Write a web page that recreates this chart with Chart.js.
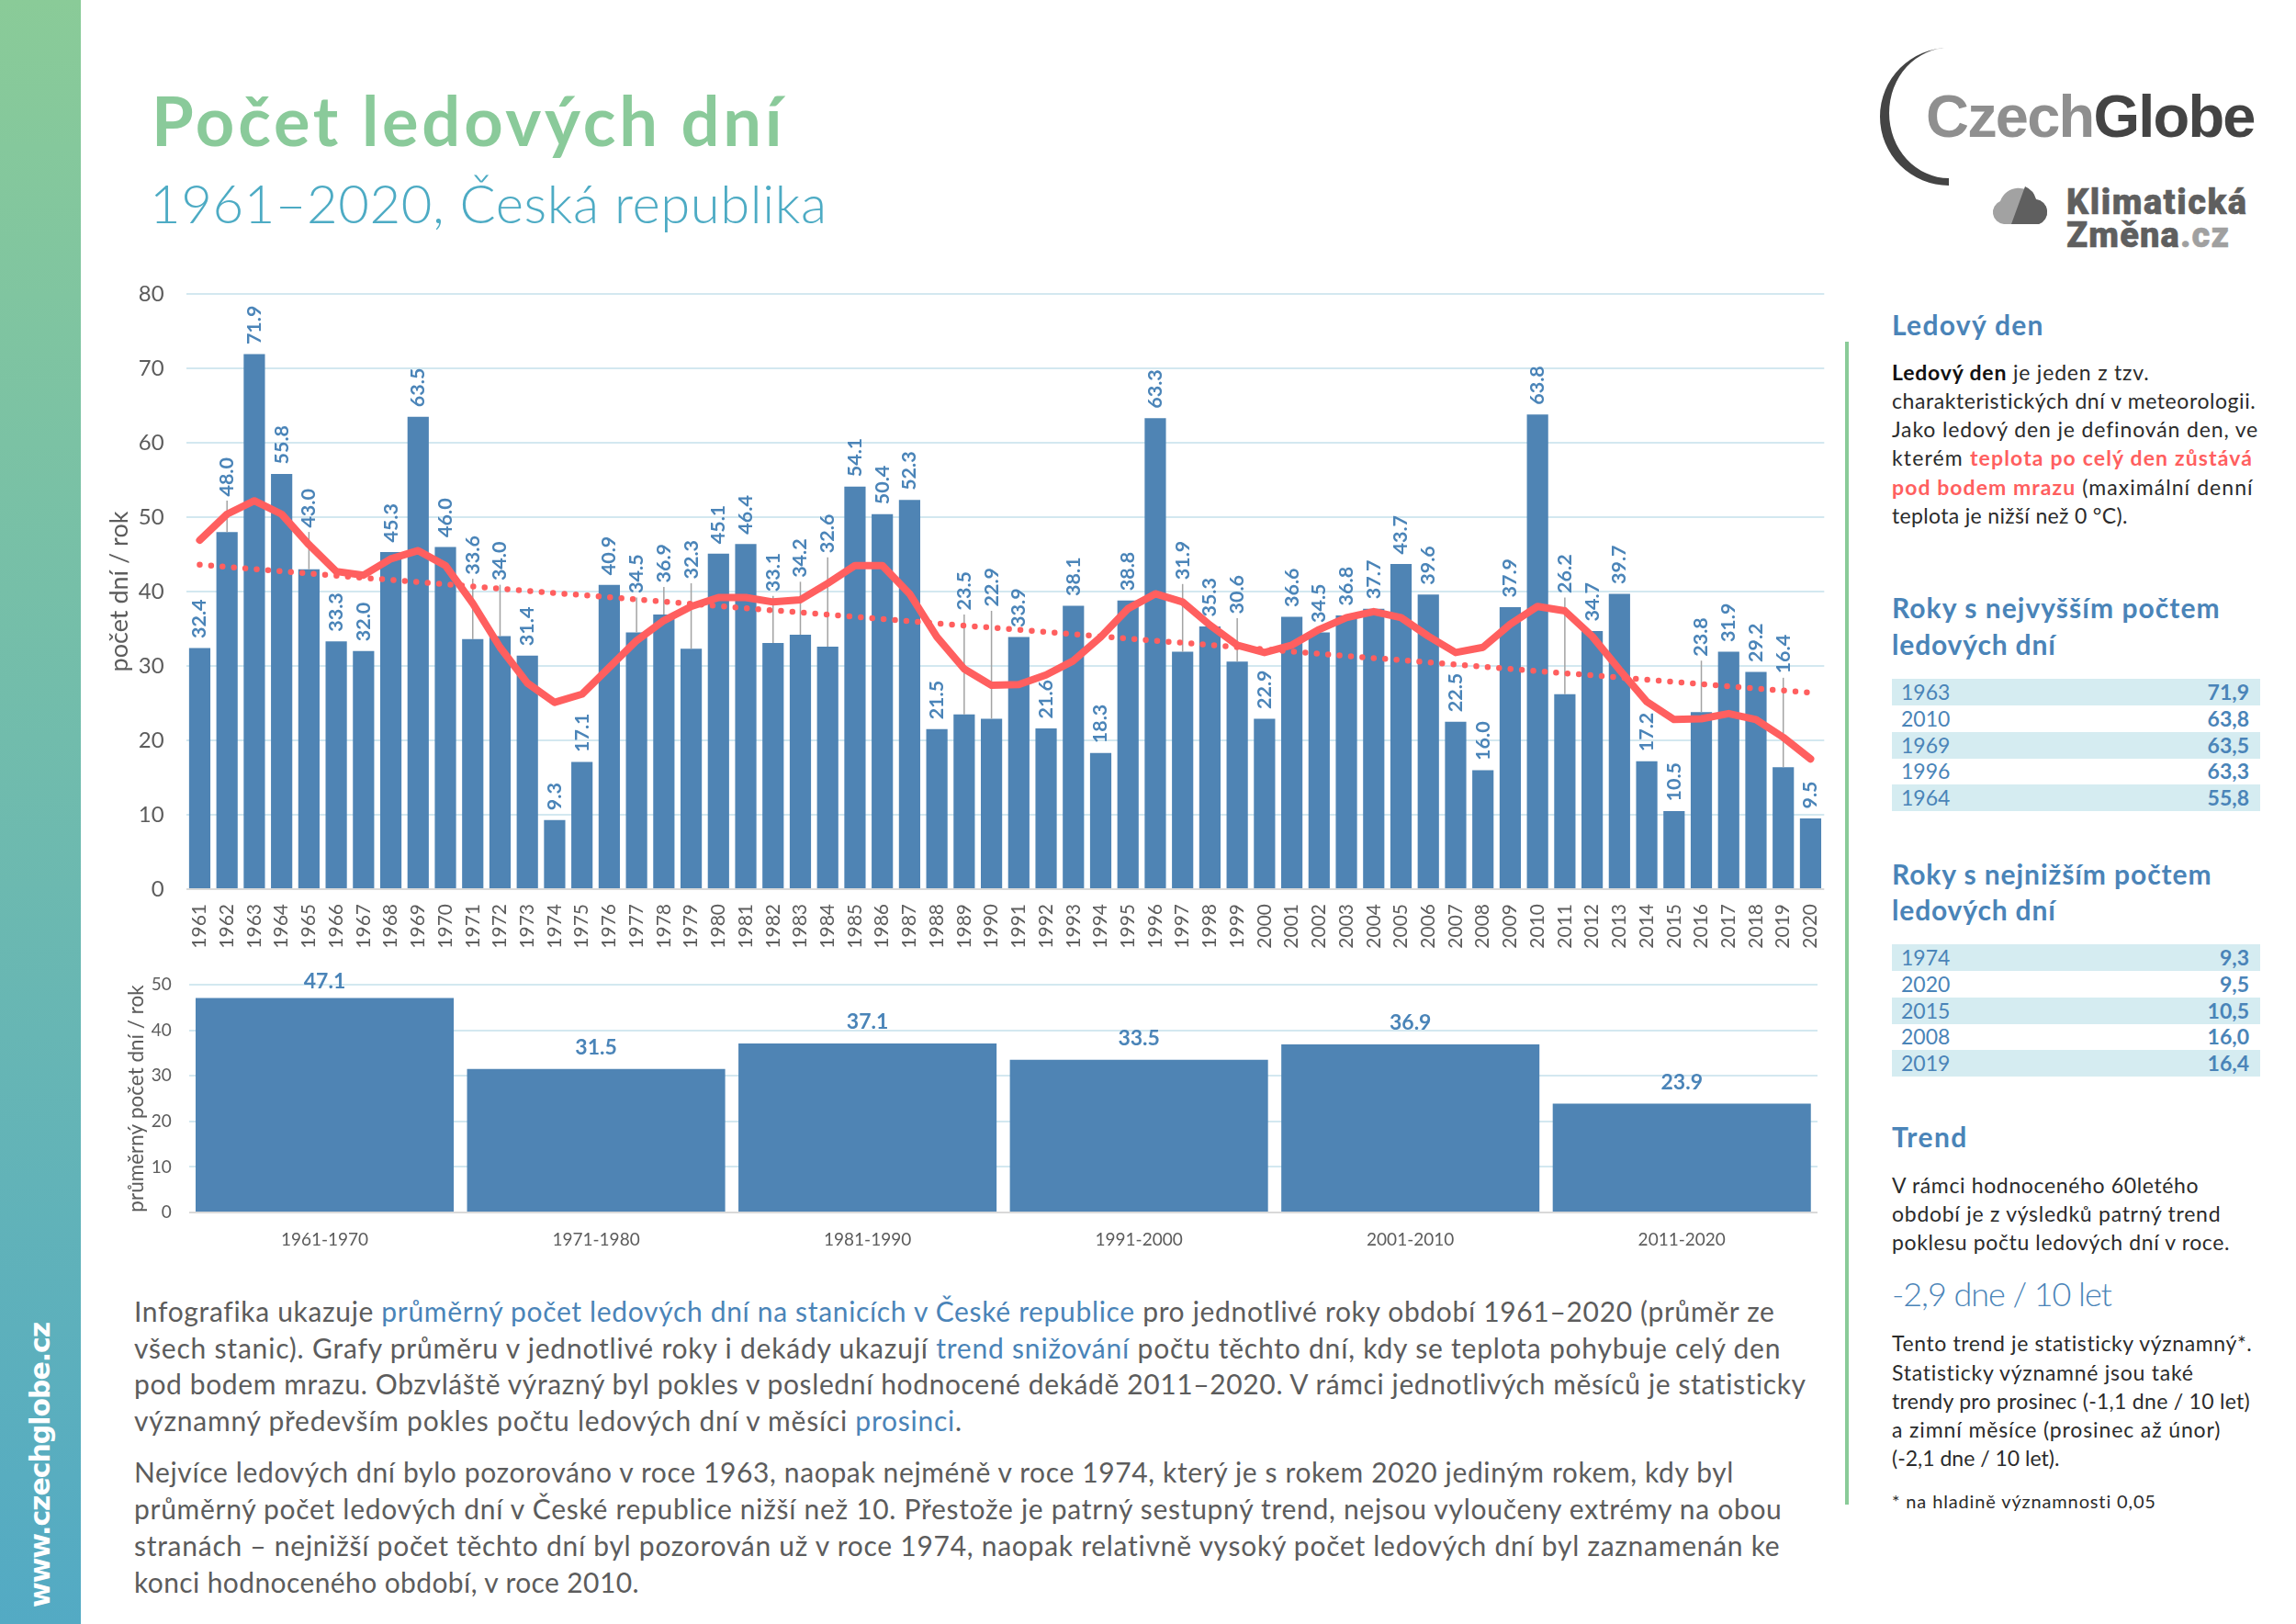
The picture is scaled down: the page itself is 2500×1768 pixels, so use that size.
<!DOCTYPE html>
<html lang="cs">
<head>
<meta charset="utf-8">
<title>Počet ledových dní</title>
<script src="https://cdn.jsdelivr.net/npm/chart.js@4"></script>
<style>
  html, body { margin: 0; padding: 0; background: #fff; }
  #page { position: relative; width: 2500px; height: 1768px; overflow: hidden; font-family: Lato, sans-serif; }
  #band { position: absolute; left: 0; top: 0; width: 88px; height: 1768px; background: linear-gradient(#8acb98, #53aac4); }
  #www { position: absolute; left: 44px; top: 1750px; color: #fff; font: 700 30px "DejaVu Sans", sans-serif; white-space: nowrap; line-height: 1;
         transform-origin: 0 50%; transform: translateY(-50%) rotate(-90deg); }
  canvas { position: absolute; }
  .ln { position: absolute; white-space: nowrap; line-height: 1; transform: translateY(calc(-50% - 1.5px)); }
  .head { color: #4a84b8; font-size: 30px; font-weight: 700; }
  .side { color: #2b2b2b; font-size: 23px; }
  .body { color: #5c5c5c; font-size: 30px; }
  .blue { color: #4a84b8; }
  .red { color: #ff5f5f; font-weight: 700; }
  .row { position: absolute; left: 2060px; width: 401px; height: 29px; }
  .row.on { background: #d5ecf1; }
  .row span { position: absolute; top: 0; line-height: 29px; font-size: 23px; color: #4a84b8; }
  .row .y { left: 10px; font-weight: 400; }
  .row .v { right: 12px; font-weight: 700; }
  #rule { position: absolute; left: 2009px; top: 372px; width: 4px; height: 1266px; background: #8acb98; }
  #logo { position: absolute; left: 0; top: 0; }
  .mark { font-family: Roboto, sans-serif; font-size: 38px; font-weight: 900; color: #5f5f5f; -webkit-text-stroke: 0.5px currentColor; }
</style>
</head>
<body>
<div id="page">
  <div id="band"></div>
  <div id="www" data-w="310">www.czechglobe.cz</div>

  <div class="ln" data-w="690" style="left:165px;top:132px;font-size:74px;font-weight:700;color:#8aca9a">Počet ledových dní</div>
  <div class="ln" data-w="738" style="left:163px;top:222px;font-size:58px;font-weight:300;color:#4dabc4">1961–2020, Česká republika</div>

  <svg id="logo" width="2500" height="300">
    <path d="M2122 52 A75 75 0 0 0 2122 202 L2122 194 A65 71 0 0 1 2122 52 Z" fill="#444"/>
    <path id="cloud" d="M2182 244 A13 13 0 0 1 2178 219 A21 21 0 0 1 2217 217 A14 14 0 0 1 2220 244 Z" fill="#a2a2a2"/>
    <path d="M2205 203 A21 21 0 0 1 2217 217 A14 14 0 0 1 2220 244 L2190 244 Z" fill="#5f5f5f"/>
  </svg>
  <div class="ln" data-w="358" style="left:2097px;top:128px;font:700 65px 'Liberation Sans',sans-serif;color:#8f8f8f"><span>Czech</span><span style="color:#444">Globe</span></div>
  <div class="ln mark" data-w="197" style="left:2250px;top:221px">Klimatická</div>
  <div class="ln mark" data-w="178" style="left:2250px;top:257px">Změna<span style="color:#a0a0a0">.cz</span></div>

  <canvas id="mainChart" width="1900" height="760" style="left:100px;top:290px"></canvas>
  <canvas id="decadeChart" width="1900" height="340" style="left:100px;top:1040px"></canvas>

  <div id="rule"></div>
  <div id="bodyText"></div>
  <div id="sideText"></div>
  <div id="tables"></div>
</div>

<script>
// roky a prumery
const years = [];
for (let y = 1961; y <= 2020; y++) years.push(String(y));
const iceDays = [32.4, 48.0, 71.9, 55.8, 43.0, 33.3, 32.0, 45.3, 63.5, 46.0,
  33.6, 34.0, 31.4, 9.3, 17.1, 40.9, 34.5, 36.9, 32.3, 45.1,
  46.4, 33.1, 34.2, 32.6, 54.1, 50.4, 52.3, 21.5, 23.5, 22.9,
  33.9, 21.6, 38.1, 18.3, 38.8, 63.3, 31.9, 35.3, 30.6, 22.9,
  36.6, 34.5, 36.8, 37.7, 43.7, 39.6, 22.5, 16.0, 37.9, 63.8,
  26.2, 34.7, 39.7, 17.2, 10.5, 23.8, 31.9, 29.2, 16.4, 9.5];
// klouzavy prumer
const smoothed = [46.9, 50.4, 52.2, 50.4, 46.3, 42.7, 42.2, 44.4, 45.5, 43.5,
  38.4, 32.5, 27.7, 25.1, 26.2, 29.8, 33.4, 36.1, 38.0, 39.2,
  39.2, 38.6, 38.9, 41.1, 43.5, 43.5, 39.7, 33.9, 29.6, 27.4,
  27.5, 28.8, 30.7, 33.9, 37.7, 39.7, 38.6, 35.5, 32.8, 31.8,
  32.8, 34.9, 36.5, 37.3, 36.5, 34.0, 31.8, 32.5, 35.6, 38.0,
  37.4, 34.0, 29.5, 25.2, 22.8, 22.9, 23.6, 22.8, 20.4, 17.5];
const trendYears = ['1961', '2020'];
const trendValues = [43.6, 26.4];
const yTicksMain = [0, 10, 20, 30, 40, 50, 60, 70, 80];

const decades = ['1961-1970', '1971-1980', '1981-1990', '1991-2000', '2001-2010', '2011-2020'];
const decadeMeans = [47.1, 31.5, 37.1, 33.5, 36.9, 23.9];

const highYears = ['1963', '2010', '1969', '1996', '1964'];
const highValues = [71.9, 63.8, 63.5, 63.3, 55.8];
const lowYears = ['1974', '2020', '2015', '2008', '2019'];
const lowValues = [9.3, 9.5, 10.5, 16.0, 16.4];

// vyska popisku, ktere maji v originale odkazovou caru (v jednotkach osy y)
const raisedLabels = { 1962: 53.2, 1965: 49, 1971: 42.7, 1972: 41.9, 1977: 40.2, 1978: 41.6, 1979: 42.1,
  1982: 40.4, 1983: 42.3, 1984: 45.6, 1989: 37.9, 1990: 38.4, 1997: 42, 1999: 37.4, 2011: 40.2, 2016: 31.7, 2019: 29.4 };

const BLUE = '#4f84b4';
const TEXT_BLUE = '#4a84b8';
const RED = '#ff5f5f';
const GRID = '#d3e8f0';
const GREY = '#5c5c5c';
const FONT = 'Lato, sans-serif';

Chart.defaults.animation = false;

// popisky nad sloupci v hlavnim grafu
const yearLabels = {
  id: 'yearLabels',
  afterDatasetDraw(chart, args) {
    if (args.index !== 0) return;
    const ctx = chart.ctx;
    const yScale = chart.scales.y;
    ctx.save();
    chart.getDatasetMeta(0).data.forEach((bar, i) => {
      const raised = raisedLabels[years[i]];
      let base = bar.y - 10.5;
      if (raised) {
        base = yScale.getPixelForValue(raised) + 3.5;
        ctx.strokeStyle = '#a3a3a3';
        ctx.lineWidth = 1.5;
        ctx.beginPath();
        ctx.moveTo(bar.x, bar.y);
        ctx.lineTo(bar.x, base + 4.5);
        ctx.stroke();
      }
      ctx.save();
      ctx.translate(bar.x, base);
      ctx.rotate(-Math.PI / 2);
      ctx.font = '700 21.5px ' + FONT;
      ctx.fillStyle = TEXT_BLUE;
      ctx.textAlign = 'left';
      ctx.textBaseline = 'middle';
      ctx.fillText(iceDays[i].toFixed(1), 0, 0);
      ctx.restore();
    });
    ctx.restore();
  }
};

// popisky nad dekadami
const decadeLabels = {
  id: 'decadeLabels',
  afterDatasetDraw(chart, args) {
    const ctx = chart.ctx;
    ctx.save();
    ctx.font = '700 23px ' + FONT;
    ctx.fillStyle = TEXT_BLUE;
    ctx.textAlign = 'center';
    ctx.textBaseline = 'middle';
    chart.getDatasetMeta(args.index).data.forEach((bar, i) => {
      const y = Math.max(bar.y - 23, chart.chartArea.top - 3);
      ctx.fillText(decadeMeans[i].toFixed(1), bar.x, y);
    });
    ctx.restore();
  }
};

// pevna velikost os, aby plocha grafu sedela na originale
function fixAxis(size) {
  return (scale) => {
    if (scale.isHorizontal()) scale.height = size;
    else scale.width = size;
    scale.paddingLeft = scale.paddingRight = scale.paddingTop = scale.paddingBottom = 0;
  };
}

new Chart(document.getElementById('mainChart'), {
  data: {
    labels: years,
    datasets: [
      { type: 'bar', data: iceDays, backgroundColor: BLUE, barPercentage: 0.78, categoryPercentage: 1, order: 3 },
      { type: 'line', data: trendYears.map((y, i) => ({ x: y, y: trendValues[i] })), borderColor: RED, borderWidth: 6.5,
        borderDash: [0, 12.45], borderCapStyle: 'round', pointRadius: 0, order: 2 },
      { type: 'line', data: smoothed, borderColor: RED, borderWidth: 8, borderJoinStyle: 'round', borderCapStyle: 'round',
        pointRadius: 0, tension: 0, order: 1 }
    ]
  },
  options: {
    responsive: false,
    layout: { padding: { top: 30, right: 13.7, left: 0, bottom: 0 } },
    plugins: { legend: { display: false }, tooltip: { enabled: false } },
    scales: {
      x: {
        grid: { display: false, drawTicks: false },
        border: { display: false },
        afterFit: fixAxis(82),
        ticks: { autoSkip: false, minRotation: 90, maxRotation: 90, padding: 16, color: GREY, font: { family: FONT, size: 21, weight: 400 } }
      },
      y: {
        min: 0, max: 80,
        afterBuildTicks: (s) => { s.ticks = yTicksMain.map((v) => ({ value: v })); },
        afterFit: fixAxis(102.6),
        grid: { drawTicks: false, lineWidth: 2, color: (c) => (c.tick.value === 0 ? '#d9d9d9' : GRID) },
        border: { display: false },
        ticks: { padding: 24, color: GREY, font: { family: FONT, size: 24, weight: 400 } },
        title: { display: true, text: 'počet dní / rok', color: GREY, padding: { top: 14, bottom: 0 }, font: { family: FONT, size: 27, weight: 400 } }
      }
    }
  },
  plugins: [yearLabels]
});

new Chart(document.getElementById('decadeChart'), {
  type: 'bar',
  data: {
    labels: decades,
    datasets: [{ data: decadeMeans, backgroundColor: BLUE, barPercentage: 0.951, categoryPercentage: 1 }]
  },
  options: {
    responsive: false,
    layout: { padding: { top: 32, right: 21, left: 0, bottom: 0 } },
    plugins: { legend: { display: false }, tooltip: { enabled: false } },
    scales: {
      x: {
        grid: { display: false, drawTicks: false },
        border: { display: false },
        afterFit: fixAxis(60),
        ticks: { padding: 18, color: GREY, font: { family: FONT, size: 19, weight: 400 } }
      },
      y: {
        min: 0, max: 50,
        ticks: { stepSize: 10, padding: 19, color: GREY, font: { family: FONT, size: 19, weight: 400 } },
        afterFit: fixAxis(105.75),
        grid: { drawTicks: false, lineWidth: 2, color: (c) => (c.tick.value === 0 ? '#d9d9d9' : GRID) },
        border: { display: false },
        title: { display: true, text: 'průměrný počet dní / rok', color: GREY, padding: { top: 35, bottom: 0 }, font: { family: FONT, size: 22.5, weight: 400 } }
      }
    }
  },
  plugins: [decadeLabels]
});

// texty pod grafem: [stred radku, sirka, html]
const bodyLines = [
  [1428, 1786, 'Infografika ukazuje <span class="blue">průměrný počet ledových dní na stanicích v České republice</span> pro jednotlivé roky období 1961–2020 (průměr ze'],
  [1468, 1793, 'všech stanic). Grafy průměru v jednotlivé roky i dekády ukazují <span class="blue">trend snižování</span> počtu těchto dní, kdy se teplota pohybuje celý den'],
  [1507, 1822, 'pod bodem mrazu. Obzvláště výrazný byl pokles v poslední hodnocené dekádě 2011–2020. V rámci jednotlivých měsíců je statisticky'],
  [1547, 902, 'významný především pokles počtu ledových dní v měsíci <span class="blue">prosinci</span>.'],
  [1603, 1742, 'Nejvíce ledových dní bylo pozorováno v roce 1963, naopak nejméně v roce 1974, který je s rokem 2020 jediným rokem, kdy byl'],
  [1643, 1795, 'průměrný počet ledových dní v České republice nižší než 10. Přestože je patrný sestupný trend, nejsou vyloučeny extrémy na obou'],
  [1683, 1793, 'stranách – nejnižší počet těchto dní byl pozorován už v roce 1974, naopak relativně vysoký počet ledových dní byl zaznamenán ke'],
  [1723, 550, 'konci hodnoceného období, v roce 2010.']
];
document.getElementById('bodyText').innerHTML = bodyLines.map((l) =>
  `<div class="ln body" data-w="${l[1]}" style="left:146px;top:${l[0]}px">${l[2]}</div>`).join('');

// pravy sloupec: [trida, stred radku, sirka, html]
const sideLines = [
  ['head', 354, 166, 'Ledový den'],
  ['side', 407, 280, '<b style="color:#111">Ledový den</b> je jeden z tzv.'],
  ['side', 438, 397, 'charakteristických dní v meteorologii.'],
  ['side', 469, 399, 'Jako ledový den je definován den, ve'],
  ['side', 500, 393, 'kterém <span class="red">teplota po celý den zůstává</span>'],
  ['side', 532, 394, '<span class="red">pod bodem mrazu</span> (maximální denní'],
  ['side', 563, 257, 'teplota je nižší než 0 °C).'],
  ['head', 662, 358, 'Roky s nejvyšším počtem'],
  ['head', 702, 179, 'ledových dní'],
  ['head', 952, 348, 'Roky s nejnižším počtem'],
  ['head', 991, 179, 'ledových dní'],
  ['head', 1238, 83, 'Trend'],
  ['side', 1292, 334, 'V rámci hodnoceného 60letého'],
  ['side', 1323, 358, 'období je z výsledků patrný trend'],
  ['side', 1354, 368, 'poklesu počtu ledových dní v roce.'],
  ['big', 1409, 239, '-2,9 dne / 10 let'],
  ['side', 1464, 393, 'Tento trend je statisticky významný*.'],
  ['side', 1496, 329, 'Statisticky významné jsou také'],
  ['side', 1527, 390, 'trendy pro prosinec (-1,1 dne / 10 let)'],
  ['side', 1558, 358, 'a zimní měsíce (prosinec až únor)'],
  ['side', 1589, 182, '(-2,1 dne / 10 let).'],
  ['foot', 1635, 288, '* na hladině významnosti 0,05']
];
const extraStyle = { big: 'font-size:36px;font-weight:300;color:#4a84b8', foot: 'font-size:20px;color:#2b2b2b' };
document.getElementById('sideText').innerHTML = sideLines.map((l) =>
  `<div class="ln ${l[0]}" data-w="${l[2]}" style="left:2060px;top:${l[1]}px;${extraStyle[l[0]] || ''}">${l[3]}</div>`).join('');

// tabulky
function tableRows(top, yrs, vals) {
  return yrs.map((y, i) => `<div class="row${i % 2 === 0 ? ' on' : ''}" style="top:${top + i * 28.8}px">` +
    `<span class="y">${y}</span><span class="v">${vals[i].toFixed(1).replace('.', ',')}</span></div>`).join('');
}
document.getElementById('tables').innerHTML = tableRows(739, highYears, highValues) + tableRows(1028, lowYears, lowValues);

// roztazeni radku na sirku z originalu
document.querySelectorAll('[data-w]').forEach((el) => {
  const real = el.offsetWidth;
  el.style.letterSpacing = ((+el.dataset.w - real) / el.textContent.length) + 'px';
});
</script>
</body>
</html>
